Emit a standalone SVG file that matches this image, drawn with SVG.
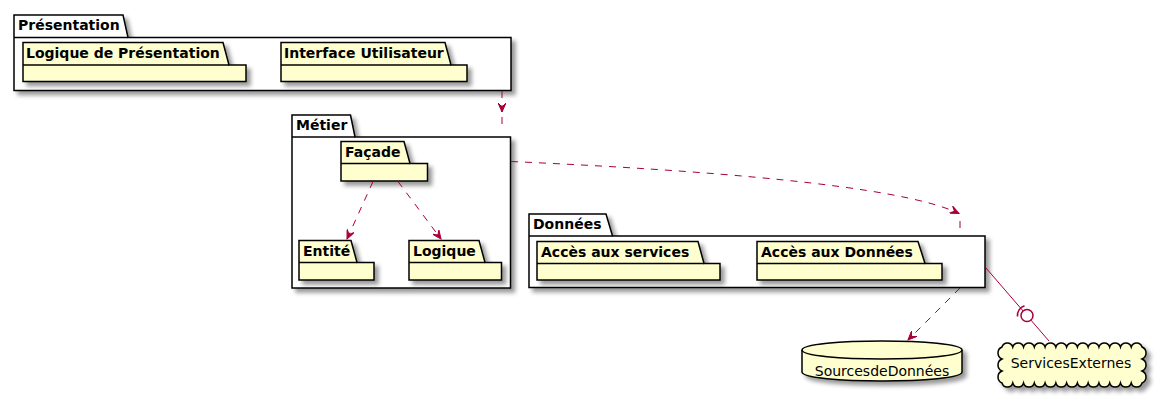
<svg xmlns="http://www.w3.org/2000/svg" width="1162" height="401" viewBox="0 0 1162 401">
<defs>
<filter id="sh" x="-10%" y="-10%" width="130%" height="140%">
<feGaussianBlur in="SourceAlpha" stdDeviation="2" result="b"/>
<feColorMatrix in="b" type="matrix" values="0 0 0 0 0  0 0 0 0 0  0 0 0 0 0  0 0 0 0.4 0" result="c"/>
<feOffset in="c" dx="4" dy="4" result="o"/>
<feMerge><feMergeNode in="o"/><feMergeNode in="SourceGraphic"/></feMerge>
</filter>
<marker id="arr" viewBox="0 0 10 8" refX="9" refY="4" markerWidth="10" markerHeight="8" markerUnits="userSpaceOnUse" orient="auto">
<path d="M0,0 L9,4 L0,8 L4,4 Z" fill="#A80036" stroke="#A80036" stroke-width="1"/>
</marker>
</defs>
<style>
.outer{fill:#FFFFFF;stroke:#000000;stroke-width:1.5;filter:url(#sh);}
.inner{fill:#FEFECE;stroke:#000000;stroke-width:1.5;filter:url(#sh);}
.tabline{fill:none;stroke:#000000;stroke-width:1.5;}
.lbl{font-family:"DejaVu Sans","Liberation Sans",sans-serif;font-size:14px;font-weight:bold;fill:#000000;}
.txt{font-family:"DejaVu Sans","Liberation Sans",sans-serif;font-size:14px;fill:#000000;}
.dash{fill:none;stroke:#A80036;stroke-width:1;stroke-dasharray:7,7;}
.solid{fill:none;stroke:#A80036;stroke-width:1;}
</style>

<g id="presentation">
<path class="outer" d="M14,37.5 L14,15 L123,15 L128,37.5 L511,37.5 L511,90.5 L14,90.5 Z"/>
<path class="tabline" d="M14,37.5 L128,37.5"/>
<text class="lbl" x="18" y="30">Présentation</text>
</g>
<g id="logique-presentation">
<path class="inner" d="M23,65 L23,42.5 L223,42.5 L229,65 L246,65 L246,81.5 L23,81.5 Z"/>
<path class="tabline" d="M23,65 L229,65"/>
<text class="lbl" x="26" y="58">Logique de Présentation</text>
</g>
<g id="interface-utilisateur">
<path class="inner" d="M281,65 L281,42.5 L445,42.5 L451,65 L467,65 L467,81.5 L281,81.5 Z"/>
<path class="tabline" d="M281,65 L451,65"/>
<text class="lbl" x="284" y="58">Interface Utilisateur</text>
</g>

<g id="metier">
<path class="outer" d="M292,137 L292,115 L350.5,115 L355,137 L510.5,137 L510.5,288 L292,288 Z"/>
<path class="tabline" d="M292,137 L355,137"/>
<text class="lbl" x="296" y="130">Métier</text>
</g>
<g id="facade">
<path class="inner" d="M341,163.5 L341,141.5 L404,141.5 L410,163.5 L427.5,163.5 L427.5,181 L341,181 Z"/>
<path class="tabline" d="M341,163.5 L410,163.5"/>
<text class="lbl" x="345" y="157">Façade</text>
</g>
<g id="entite">
<path class="inner" d="M299,262.5 L299,240.5 L351,240.5 L357,262.5 L374,262.5 L374,280 L299,280 Z"/>
<path class="tabline" d="M299,262.5 L357,262.5"/>
<text class="lbl" x="303" y="256">Entité</text>
</g>
<g id="logique">
<path class="inner" d="M409,262.5 L409,240.5 L479,240.5 L485,262.5 L501.5,262.5 L501.5,280 L409,280 Z"/>
<path class="tabline" d="M409,262.5 L485,262.5"/>
<text class="lbl" x="413" y="256">Logique</text>
</g>

<g id="donnees">
<path class="outer" d="M529,236 L529,214 L606,214 L612.5,236 L985,236 L985,287.5 L529,287.5 Z"/>
<path class="tabline" d="M529,236 L612.5,236"/>
<text class="lbl" x="533" y="229">Données</text>
</g>
<g id="acces-services">
<path class="inner" d="M537,263.5 L537,241.5 L698,241.5 L704,263.5 L720,263.5 L720,280 L537,280 Z"/>
<path class="tabline" d="M537,263.5 L704,263.5"/>
<text class="lbl" x="541" y="257">Accès aux services</text>
</g>
<g id="acces-donnees">
<path class="inner" d="M757,263.5 L757,241.5 L918,241.5 L925,263.5 L942,263.5 L942,280 L757,280 Z"/>
<path class="tabline" d="M757,263.5 L925,263.5"/>
<text class="lbl" x="761" y="257">Accès aux Données</text>
</g>

<g id="sources-donnees">
<path class="inner" d="M802,350 C802,338 962,338 962,350 L962,372 C962,384 802,384 802,372 Z"/>
<path class="tabline" d="M802,350 C802,362 962,362 962,350"/>
<text class="txt" x="882" y="376" text-anchor="middle">SourcesdeDonnées</text>
</g>

<g id="services-externes">
<path class="inner" d="M1002,347 a5.6,5.6 0 0 1 10.77,0 a5.6,5.6 0 0 1 10.77,0 a5.6,5.6 0 0 1 10.77,0 a5.6,5.6 0 0 1 10.77,0 a5.6,5.6 0 0 1 10.77,0 a5.6,5.6 0 0 1 10.77,0 a5.6,5.6 0 0 1 10.77,0 a5.6,5.6 0 0 1 10.77,0 a5.6,5.6 0 0 1 10.77,0 a5.6,5.6 0 0 1 10.77,0 a5.6,5.6 0 0 1 10.77,0 a5.6,5.6 0 0 1 10.77,0 a5.6,5.6 0 0 1 10.77,0 a6.5,6.5 0 0 1 0,12 a6.5,6.5 0 0 1 0,12 a6.5,6.5 0 0 1 0,12 a5.6,5.6 0 0 1 -10.77,0 a5.6,5.6 0 0 1 -10.77,0 a5.6,5.6 0 0 1 -10.77,0 a5.6,5.6 0 0 1 -10.77,0 a5.6,5.6 0 0 1 -10.77,0 a5.6,5.6 0 0 1 -10.77,0 a5.6,5.6 0 0 1 -10.77,0 a5.6,5.6 0 0 1 -10.77,0 a5.6,5.6 0 0 1 -10.77,0 a5.6,5.6 0 0 1 -10.77,0 a5.6,5.6 0 0 1 -10.77,0 a5.6,5.6 0 0 1 -10.77,0 a5.6,5.6 0 0 1 -10.77,0 a6.5,6.5 0 0 1 0,-12 a6.5,6.5 0 0 1 0,-12 a6.5,6.5 0 0 1 0,-12 Z"/>
<text class="txt" x="1071" y="368" text-anchor="middle">ServicesExternes</text>
</g>

<g id="connectors">
<path class="dash" d="M502,91 L502,112" marker-end="url(#arr)"/>
<path class="solid" d="M502,117 L502,124"/>
<path class="dash" d="M511,161.5 C700,170 900,185 959,213.5" marker-end="url(#arr)"/>
<path class="solid" d="M960,221 L960,228"/>
<path class="dash" d="M373,181.5 L347,239" marker-end="url(#arr)"/>
<path class="dash" d="M398,181.5 L441,239" marker-end="url(#arr)"/>
<path class="dash" d="M960,288 L908,340" marker-end="url(#arr)"/>
<path class="solid" d="M986,268 L1023.1,311"/>
<circle cx="1027" cy="315.5" r="6" fill="#FFFFFF" stroke="#A80036" stroke-width="1.5"/>
<path class="solid" d="M1030.9,320.1 L1049,341"/>
<path d="M1017.5,316.5 A10,10 0 0 1 1024.5,305.8" fill="none" stroke="#A80036" stroke-width="1.5"/>
</g>
</svg>
